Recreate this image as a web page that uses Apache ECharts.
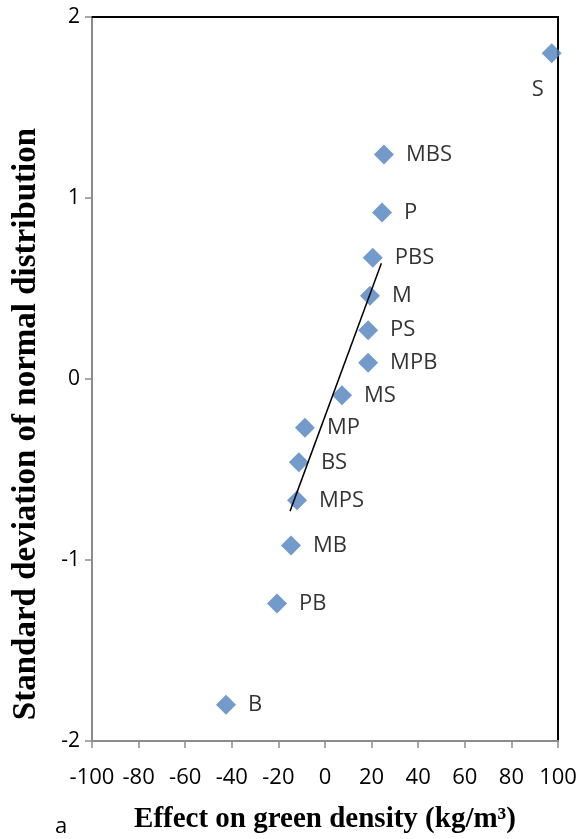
<!DOCTYPE html>
<html>
<head>
<meta charset="utf-8">
<script src="https://cdn.jsdelivr.net/npm/echarts@6/dist/echarts.min.js"></script>
<style>
  html, body { margin: 0; padding: 0; background: #fff; }
  #chart { width: 583px; height: 839px; }
</style>
</head>
<body>
<div id="chart"></div>
<script>
// Effects (kg/m³) and their normal scores
const effectNames  = ['S', 'MBS', 'P', 'PBS', 'M', 'PS', 'MPB', 'MS', 'MP', 'BS', 'MPS', 'MB', 'PB', 'B'];
const effectValues = [97.3, 25.3, 24.5, 20.5, 19.3, 18.5, 18.5, 7.3, -8.6, -11.2, -12.0, -14.6, -20.6, -42.5];
const normalScores = [1.80, 1.24, 0.92, 0.67, 0.46, 0.27, 0.09, -0.09, -0.27, -0.46, -0.67, -0.92, -1.24, -1.80];

// Fitted reference line end points
const trendX = [-15.0, 24.2];
const trendY = [-0.73, 0.64];

// Axis ticks
const xTicks = [-100, -80, -60, -40, -20, 0, 20, 40, 60, 80, 100];
const yTicks = [-2, -1, 0, 1, 2];

const sansFont = '"Open Sans", "Noto Sans", sans-serif';
const serifFont = '"Liberation Serif", "DejaVu Serif", serif';
const axisGray = '#8c8c8c';

const points = effectNames.map((n, i) => {
  const item = { name: n, value: [effectValues[i], normalScores[i]] };
  // the right-most point carries its label below-left of the marker
  if (i === 0) item.label = { position: 'bottom', distance: 16, offset: [-14, 0] };
  return item;
});

const chart = echarts.init(document.getElementById('chart'));
chart.setOption({
  animation: false,
  backgroundColor: '#ffffff',
  grid: { left: 92, right: 25, top: 17, bottom: 97, containLabel: false },
  xAxis: [
    {
      type: 'value',
      min: xTicks[0], max: xTicks[xTicks.length - 1], interval: 20,
      axisLine: { show: true, onZero: false, lineStyle: { color: axisGray, width: 2 } },
      axisTick: { show: true, length: 7, lineStyle: { color: axisGray, width: 1.5 } },
      axisLabel: { fontFamily: sansFont, fontSize: 22, color: '#000', margin: 26 },
      splitLine: { show: false },
      name: 'Effect on green density (kg/m³)',
      nameLocation: 'middle',
      nameGap: 64,
      nameTextStyle: { fontFamily: serifFont, fontWeight: 'bold', fontSize: 29, color: '#000' }
    },
    {
      type: 'value', position: 'top',
      min: xTicks[0], max: xTicks[xTicks.length - 1],
      axisLine: { show: true, onZero: false, lineStyle: { color: '#000', width: 2 } },
      axisTick: { show: false }, axisLabel: { show: false }, splitLine: { show: false }
    }
  ],
  yAxis: [
    {
      type: 'value',
      min: yTicks[0], max: yTicks[yTicks.length - 1], interval: 1,
      axisLine: { show: true, onZero: false, lineStyle: { color: axisGray, width: 2 } },
      axisTick: { show: true, length: 7, lineStyle: { color: axisGray, width: 1.5 } },
      axisLabel: { fontFamily: sansFont, fontSize: 21, color: '#000', margin: 12 },
      splitLine: { show: false }
    },
    {
      type: 'value', position: 'right',
      min: yTicks[0], max: yTicks[yTicks.length - 1],
      axisLine: { show: true, onZero: false, lineStyle: { color: '#000', width: 2 } },
      axisTick: { show: false }, axisLabel: { show: false }, splitLine: { show: false }
    }
  ],
  series: [
    {
      type: 'line',
      data: trendX.map((x, i) => [x, trendY[i]]),
      showSymbol: false,
      symbol: 'none',
      lineStyle: { color: '#000', width: 1.5 },
      z: 3
    },
    {
      type: 'scatter',
      data: points,
      symbol: 'diamond',
      symbolSize: 20,
      itemStyle: { color: '#4f81bd' },
      label: {
        show: true,
        position: 'right',
        distance: 12,
        formatter: p => p.name,
        fontFamily: sansFont,
        fontSize: 22,
        color: '#000'
      },
      z: 2
    }
  ],
  graphic: [
    {
      // vertical axis title
      type: 'text',
      x: 26, y: 424,
      rotation: Math.PI / 2,
      style: {
        text: 'Standard deviation of normal distribution',
        fontFamily: serifFont, fontWeight: 'bold', fontSize: 33, fill: '#000',
        align: 'center', verticalAlign: 'middle'
      }
    },
    {
      type: 'text',
      left: 55, top: 816,
      style: { text: 'a', fontFamily: sansFont, fontSize: 22, fill: '#000' }
    }
  ]
});
</script>
</body>
</html>
